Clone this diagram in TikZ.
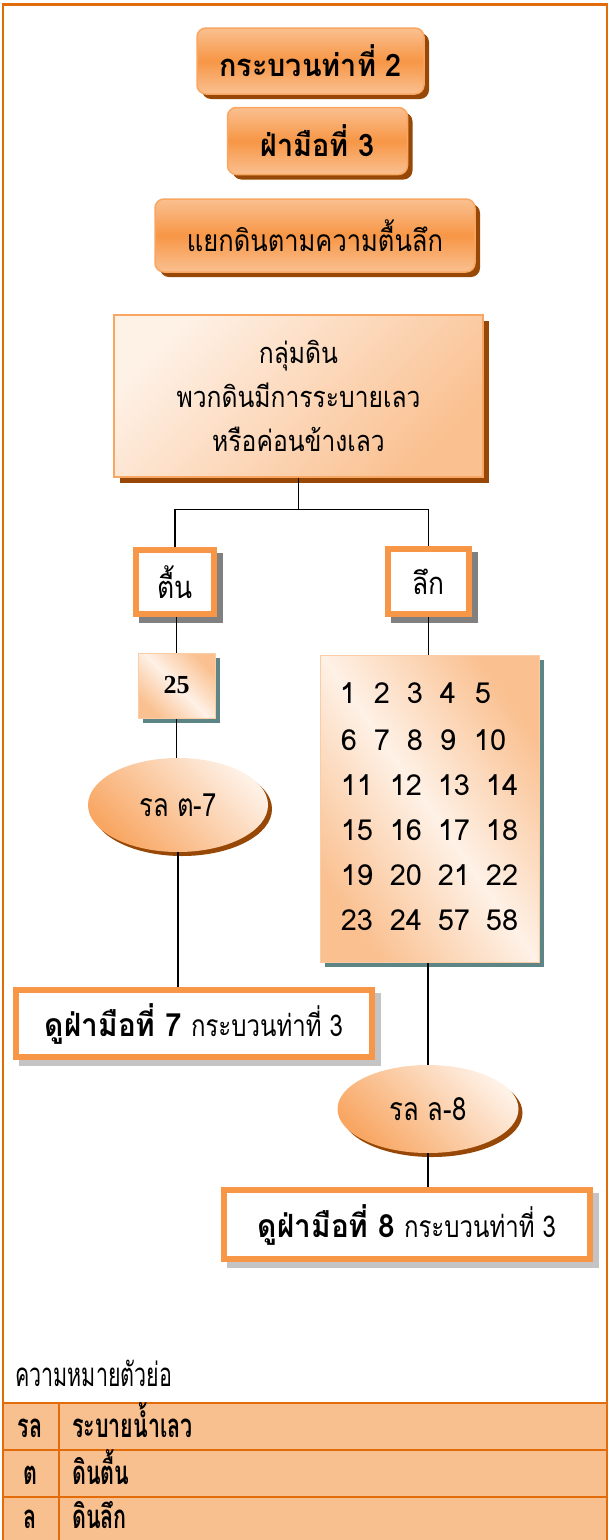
\documentclass[tikz,border=0pt]{standalone}
\usepackage{fontspec}
\newfontfamily\thai[Script=Thai]{Loma}
\newfontfamily\thaiA[Script=Thai,FakeStretch=0.85]{Loma}
\newfontfamily\thaiB[Script=Thai,FakeStretch=0.8]{Loma}
\newfontfamily\thaiH[Script=Thai,FakeStretch=0.93]{Loma}
\newfontfamily\thaicond[Script=Thai,FakeStretch=0.65]{Loma}
\newfontfamily\tserif{Liberation Serif}
\usetikzlibrary{shapes.geometric,shadows}
\definecolor{frame}{HTML}{E36C0A}
\definecolor{acc}{HTML}{F79646}
\definecolor{peach}{HTML}{FAC090}
\definecolor{lightp}{HTML}{FEF1E6}
\definecolor{brownsh}{HTML}{974806}
\definecolor{tablefill}{HTML}{F9C08F}
\definecolor{tealsh}{HTML}{5E8585}
\definecolor{graysh}{HTML}{808080}
\definecolor{lgraysh}{HTML}{C4C4C4}
\begin{document}
\begin{tikzpicture}[x=1pt,y=-1pt,
  headbox/.style={rounded corners=9pt, draw=acc!85!white, line width=1.5pt,
    top color=peach, bottom color=peach, middle color=acc,
    general shadow={shadow xshift=5pt, shadow yshift=-5pt, fill=brownsh},
    font=\thaiH\bfseries\fontsize{31}{34}\selectfont, inner sep=0pt},
  bigbox/.style={draw=acc!85!white, line width=1.5pt,
    top color=lightp, bottom color=peach, shading angle=45,
    general shadow={shadow xshift=6pt, shadow yshift=-6pt, fill=brownsh},
    font=\thaiA\fontsize{29}{44}\selectfont, align=center, inner sep=0pt},
  thickbox/.style={draw=acc, line width=6pt, fill=white, inner sep=0pt,
    general shadow={shadow xshift=6pt, shadow yshift=-6pt, fill=#1, draw=#1, line width=6pt}},
  gradbox/.style={bottom color=peach, top color=peach, middle color=lightp, shading angle=#1,
    draw=peach!80!white, line width=1pt, inner sep=0pt,
    general shadow={shadow xshift=5pt, shadow yshift=-5pt, fill=tealsh}},
  ovalnode/.style={ellipse, inner sep=0pt, bottom color=acc!85!white, top color=lightp, shading angle=-45,
    general shadow={shadow xshift=4pt, shadow yshift=-4pt, fill=brownsh},
    font=\thaiB\fontsize{32}{34}\selectfont},
  numtext/.style={font=\thai\fontsize{29}{30}\selectfont, inner sep=0pt},
  keytext/.style={font=\thaicond\bfseries\fontsize{33}{34}\selectfont, inner sep=0pt, anchor=base},
  conn/.style={draw=black, line width=1.3pt},
  tabline/.style={draw=frame, line width=2pt}
]
\useasboundingbox (0,0) rectangle (608,1540);
% frame
\draw[frame, line width=2.5pt] (2.8,1545) -- (2.8,4.5) -- (606.8,4.5) -- (606.8,1545);

% headings
\node[headbox, minimum width=227pt, minimum height=66pt] (h1) at (310.5,61) {กระบวนท่าที่ 2};
\node[headbox, minimum width=180pt, minimum height=67pt] (h2) at (317.5,141) {ฝ่ามือที่ 3};
\node[headbox, font=\thaiA\fontsize{30}{34}\selectfont, minimum width=320pt, minimum height=73pt] (h3) at (315,235.5) {แยกดินตามความตื้นลึก};

% main group box
\node[bigbox, minimum width=369pt, minimum height=162pt] (g) at (298.5,396) {กลุ่มดิน\\พวกดินมีการระบายเลว\\หรือค่อนข้างเลว};

% branch boxes
\node[thickbox=graysh, minimum width=78pt, minimum height=64pt, font=\thaiA\fontsize{31}{34}\selectfont] (tuen) at (175,582) {ตื้น};
\node[thickbox=graysh, minimum width=81pt, minimum height=65pt, font=\thaiA\fontsize{31}{34}\selectfont] (luek) at (428.5,581.5) {ลึก};

% left branch
\node[gradbox=-45, minimum width=77pt, minimum height=65pt, font=\tserif\bfseries\fontsize{26}{28}\selectfont] (b25) at (176.5,685.5) {25};
\node[ovalnode, minimum width=180pt, minimum height=94pt] (e1) at (178,805) {รล ต-7};
\node[thickbox=lgraysh, minimum width=356pt, minimum height=67pt] (b7) at (194,1023.5)
  {{\thaiH\bfseries\fontsize{32}{34}\selectfont ดูฝ่ามือที่ 7}\hspace{9pt}{\thaiB\fontsize{30}{34}\selectfont กระบวนท่าที่ 3}};

% right branch
\node[gradbox=-55, minimum width=219pt, minimum height=307pt] (grid) at (429.5,808.5) {};
\foreach \n/\x/\y in {1/348/693,2/382/693,3/415/693,4/448/693,5/483/693,
  6/349/740,7/382/740,8/415/740,9/448/740,10/490/740,
  11/357/785,12/406/785,13/454/785,14/502/785,
  15/357/830,16/406/830,17/454/830,18/502/830,
  19/357/875,20/406/875,21/454/875,22/502/875}
  \node[numtext] (n\n) at (\x,\y) {\n};
\node[numtext] (n23) at (357,920) {23};
\node[numtext] (n24) at (406,920) {24};
\node[numtext] (n57) at (454,920) {57};
\node[numtext] (n58) at (502,920) {58};
\node[ovalnode, minimum width=181pt, minimum height=88pt] (e2) at (428,1109) {รล ล-8};
\node[thickbox=lgraysh, minimum width=366pt, minimum height=69pt] (b8) at (407,1224.5)
  {{\thaiH\bfseries\fontsize{32}{34}\selectfont ดูฝ่ามือที่ 8}\hspace{9pt}{\thaiB\fontsize{30}{34}\selectfont กระบวนท่าที่ 3}};

% connectors
\coordinate (j) at ([yshift=-32pt]g.south);
\draw[conn] (g.south) -- (j);
\draw[conn] (j) -| (tuen.north);
\draw[conn] (j) -| (luek.north);
\draw[conn] (b25.north |- tuen.south) -- (b25.north);
\draw[conn] (b25.south) -- (b25.south |- e1.north);
\draw[conn] (e1.south) -- (e1.south |- b7.north);
\draw[conn] (luek.south) -- (luek.south |- grid.north);
\draw[conn] (e2.north |- grid.south) -- (e2.north);
\draw[conn] (e2.south) -- (e2.south |- b8.north);

% legend
\node[anchor=base west, inner sep=0pt, font=\thaicond\fontsize{33}{34}\selectfont] (lt) at (15,1386) {ความหมายตัวย่อ};
\fill[tablefill] (2.8,1403) rectangle (606.8,1545);
\draw[tabline] (2.8,1403) -- (606.8,1403);
\draw[tabline] (2.8,1450) -- (606.8,1450);
\draw[tabline] (2.8,1497) -- (606.8,1497);
\draw[tabline] (59,1403) -- (59,1545);
\draw[frame, line width=2.5pt] (2.8,1400) -- (2.8,1545);
\draw[frame, line width=2.5pt] (606.8,1400) -- (606.8,1545);
\node[keytext] (k1) at (30,1437) {รล};
\node[keytext] (k2) at (30,1484) {ต};
\node[keytext] (k3) at (30,1528) {ล};
\node[keytext, anchor=base west] (v1) at (72,1437) {ระบายน้ำเลว};
\node[keytext, anchor=base west] (v2) at (72,1484) {ดินตื้น};
\node[keytext, anchor=base west] (v3) at (72,1528) {ดินลึก};
\end{tikzpicture}
\end{document}
